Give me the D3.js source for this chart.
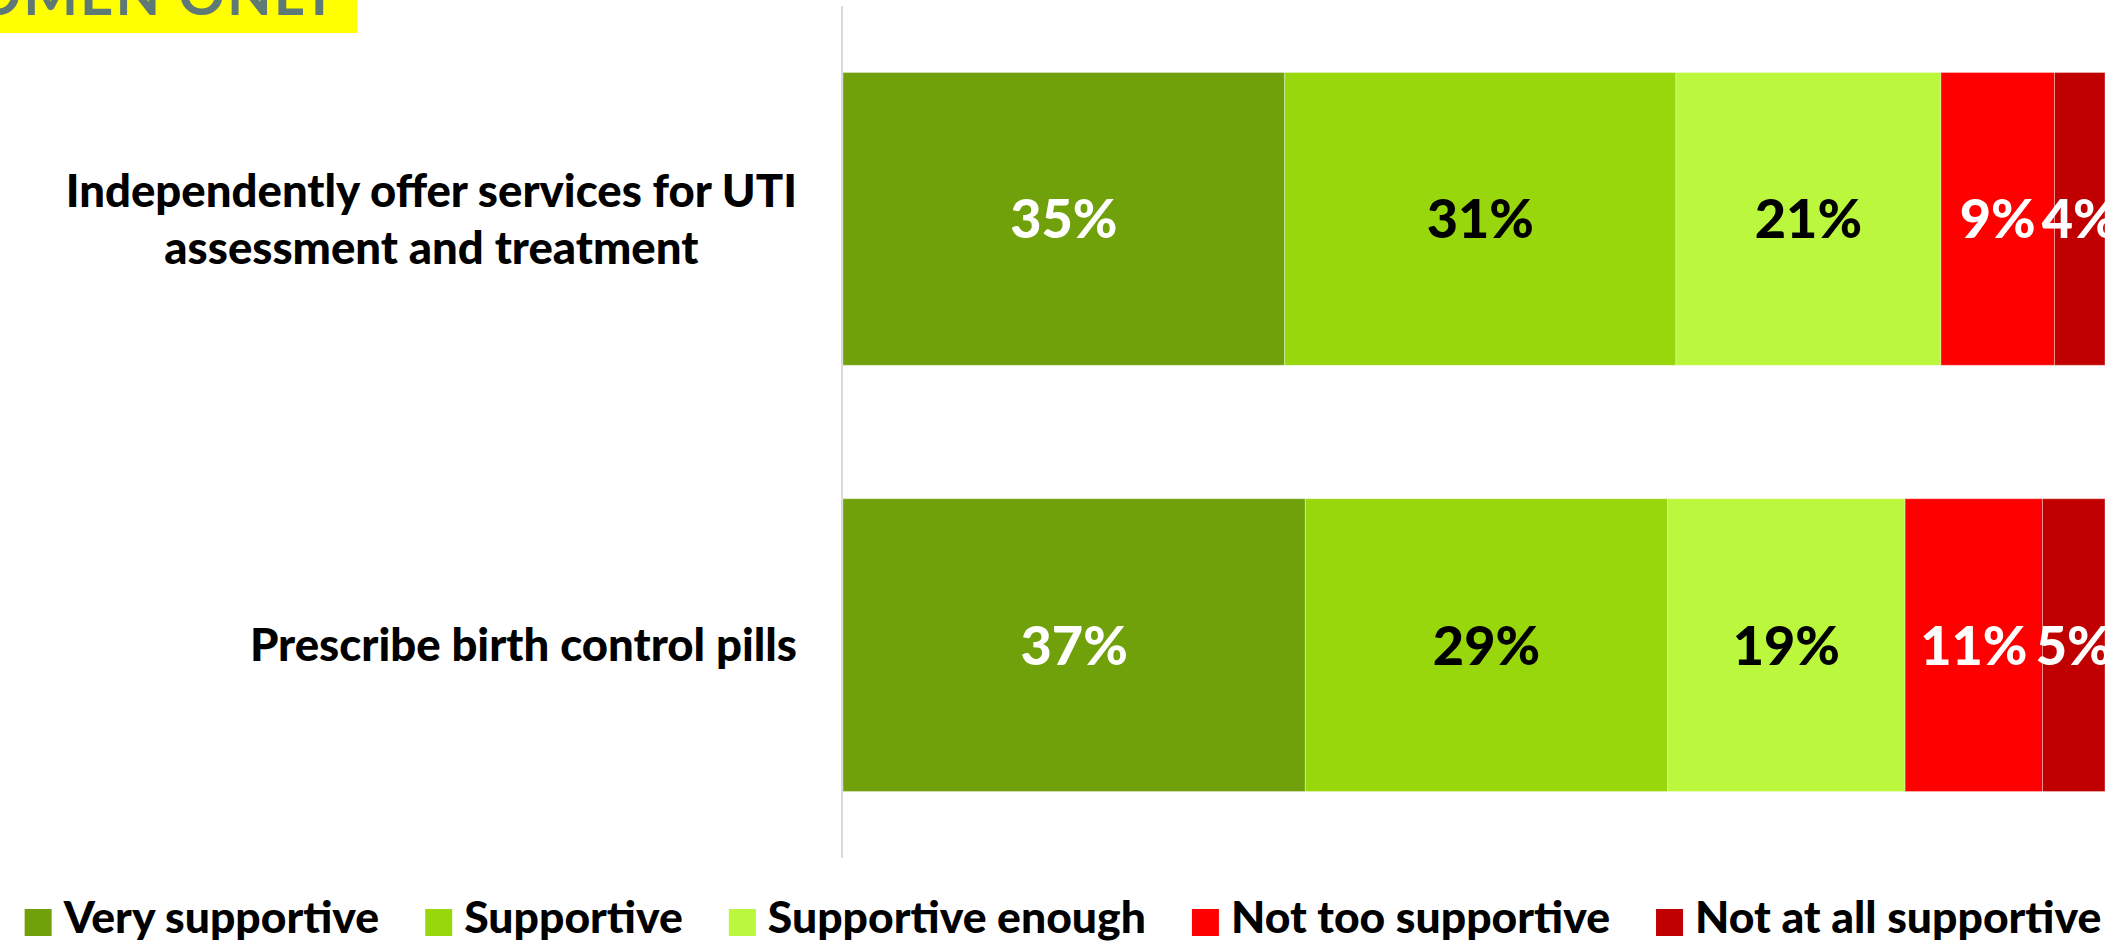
<!DOCTYPE html>
<html>
<head>
<meta charset="utf-8">
<script src="https://cdn.jsdelivr.net/npm/d3@7"></script>
<style>
  html, body { margin: 0; padding: 0; background: #ffffff; }
  svg { display: block; font-family: Lato, "Open Sans", sans-serif; }
</style>
</head>
<body>
<svg id="chart" width="2126" height="944"></svg>
<script>
// Survey items (rows of the stacked bar)
const categories = [
  ["Independently offer services for UTI", "assessment and treatment"],
  ["Prescribe birth control pills"]
];
const rowKeys = ["uti", "pill"];

// Response levels, in stacking order
const seriesNames = ["Very supportive", "Supportive", "Supportive enough", "Not too supportive", "Not at all supportive"];
const seriesColors = ["#70a00a", "#98d70b", "#bbf73c", "#fe0000", "#c00000"];
const labelColors = ["#ffffff", "#000000", "#000000", "#ffffff", "#ffffff"];

// Share of respondents (%) per response level
const utiValues = [35, 31, 21, 9, 4];
const pillValues = [37, 29, 19, 11, 5];

const titleText = "WOMEN ONLY";

const W = 2126, H = 944;
const svg = d3.select("#chart");

// Build rows for d3.stack
const table = rowKeys.map((k, i) => {
  const vals = i === 0 ? utiValues : pillValues;
  const row = { key: k };
  seriesNames.forEach((s, j) => row[s] = vals[j]);
  return row;
});

const stacked = d3.stack()
  .keys(seriesNames)
  .offset(d3.stackOffsetExpand)(table);

const x = d3.scaleLinear().domain([0, 1]).range([843, 2105]);
const y = d3.scaleBand()
  .domain(rowKeys)
  .range([6, 858])
  .paddingInner(0.313)
  .paddingOuter(0.156);

// Segments
const layers = svg.append("g").selectAll("g")
  .data(stacked)
  .join("g")
  .attr("fill", (d, i) => seriesColors[i]);

layers.selectAll("rect")
  .data(d => d.map(p => ({ p, key: d.key })))
  .join("rect")
  .attr("x", d => x(d.p[0]))
  .attr("y", d => y(d.p.data.key))
  .attr("width", d => x(d.p[1]) - x(d.p[0]))
  .attr("height", y.bandwidth())
  .attr("stroke", "rgba(255,255,255,0.35)")
  .attr("stroke-width", 1);

// Value labels
stacked.forEach((layer, i) => {
  svg.append("g").selectAll("text")
    .data(layer)
    .join("text")
    .attr("x", d => (x(d[0]) + x(d[1])) / 2)
    .attr("y", d => y(d.data.key) + y.bandwidth() / 2)
    .attr("dy", "0.36em")
    .attr("text-anchor", "middle")
    .attr("font-size", 54)
    .attr("font-weight", 900)
    .attr("fill", labelColors[i])
    .text(d => d.data[layer.key] + "%");
});

// Category axis line
svg.append("line")
  .attr("x1", 842).attr("x2", 842)
  .attr("y1", 6).attr("y2", 858)
  .attr("stroke", "#d9d9d9")
  .attr("stroke-width", 2);

// Category labels: block right-aligned to the axis, lines centred within the block
const catG = svg.append("g");
categories.forEach((lines, i) => {
  const g = catG.append("g");
  const lh = 57;
  const cy = y(rowKeys[i]) + y.bandwidth() / 2;
  const texts = lines.map((ln, j) => g.append("text")
    .attr("font-size", 45.5)
    .attr("font-weight", 900)
    .attr("fill", "#000")
    .attr("text-anchor", "middle")
    .attr("y", cy + (j - (lines.length - 1) / 2) * lh)
    .attr("dy", "0.36em")
    .text(ln));
  const widths = texts.map(t => t.node().getComputedTextLength());
  const blockW = d3.max(widths);
  const right = 797;
  texts.forEach(t => t.attr("x", right - blockW / 2));
});

// Title tag
svg.append("rect")
  .attr("x", 0).attr("y", 0)
  .attr("width", 357).attr("height", 33)
  .attr("fill", "#ffff00");
svg.append("text")
  .attr("x", 340).attr("y", 15)
  .attr("text-anchor", "end")
  .attr("font-size", 58)
  .attr("font-weight", 700)
  .attr("letter-spacing", 2)
  .attr("fill", "#5f7a76")
  .text(titleText);

// Legend, centred below the plot
const legend = svg.append("g");
const items = seriesNames.map((name, i) => {
  const g = legend.append("g");
  g.append("rect")
    .attr("width", 27).attr("height", 27)
    .attr("y", 909)
    .attr("fill", seriesColors[i]);
  const t = g.append("text")
    .attr("x", 39)
    .attr("y", 933)
    .attr("font-size", 44.5)
    .attr("font-weight", 900)
    .attr("fill", "#000")
    .text(name);
  return { g, w: 39 + t.node().getComputedTextLength() };
});
const gap = 46;
const total = d3.sum(items, d => d.w) + gap * (items.length - 1);
let cx = W / 2 - total / 2;
items.forEach(it => {
  it.g.attr("transform", `translate(${cx},0)`);
  cx += it.w + gap;
});
</script>
</body>
</html>
